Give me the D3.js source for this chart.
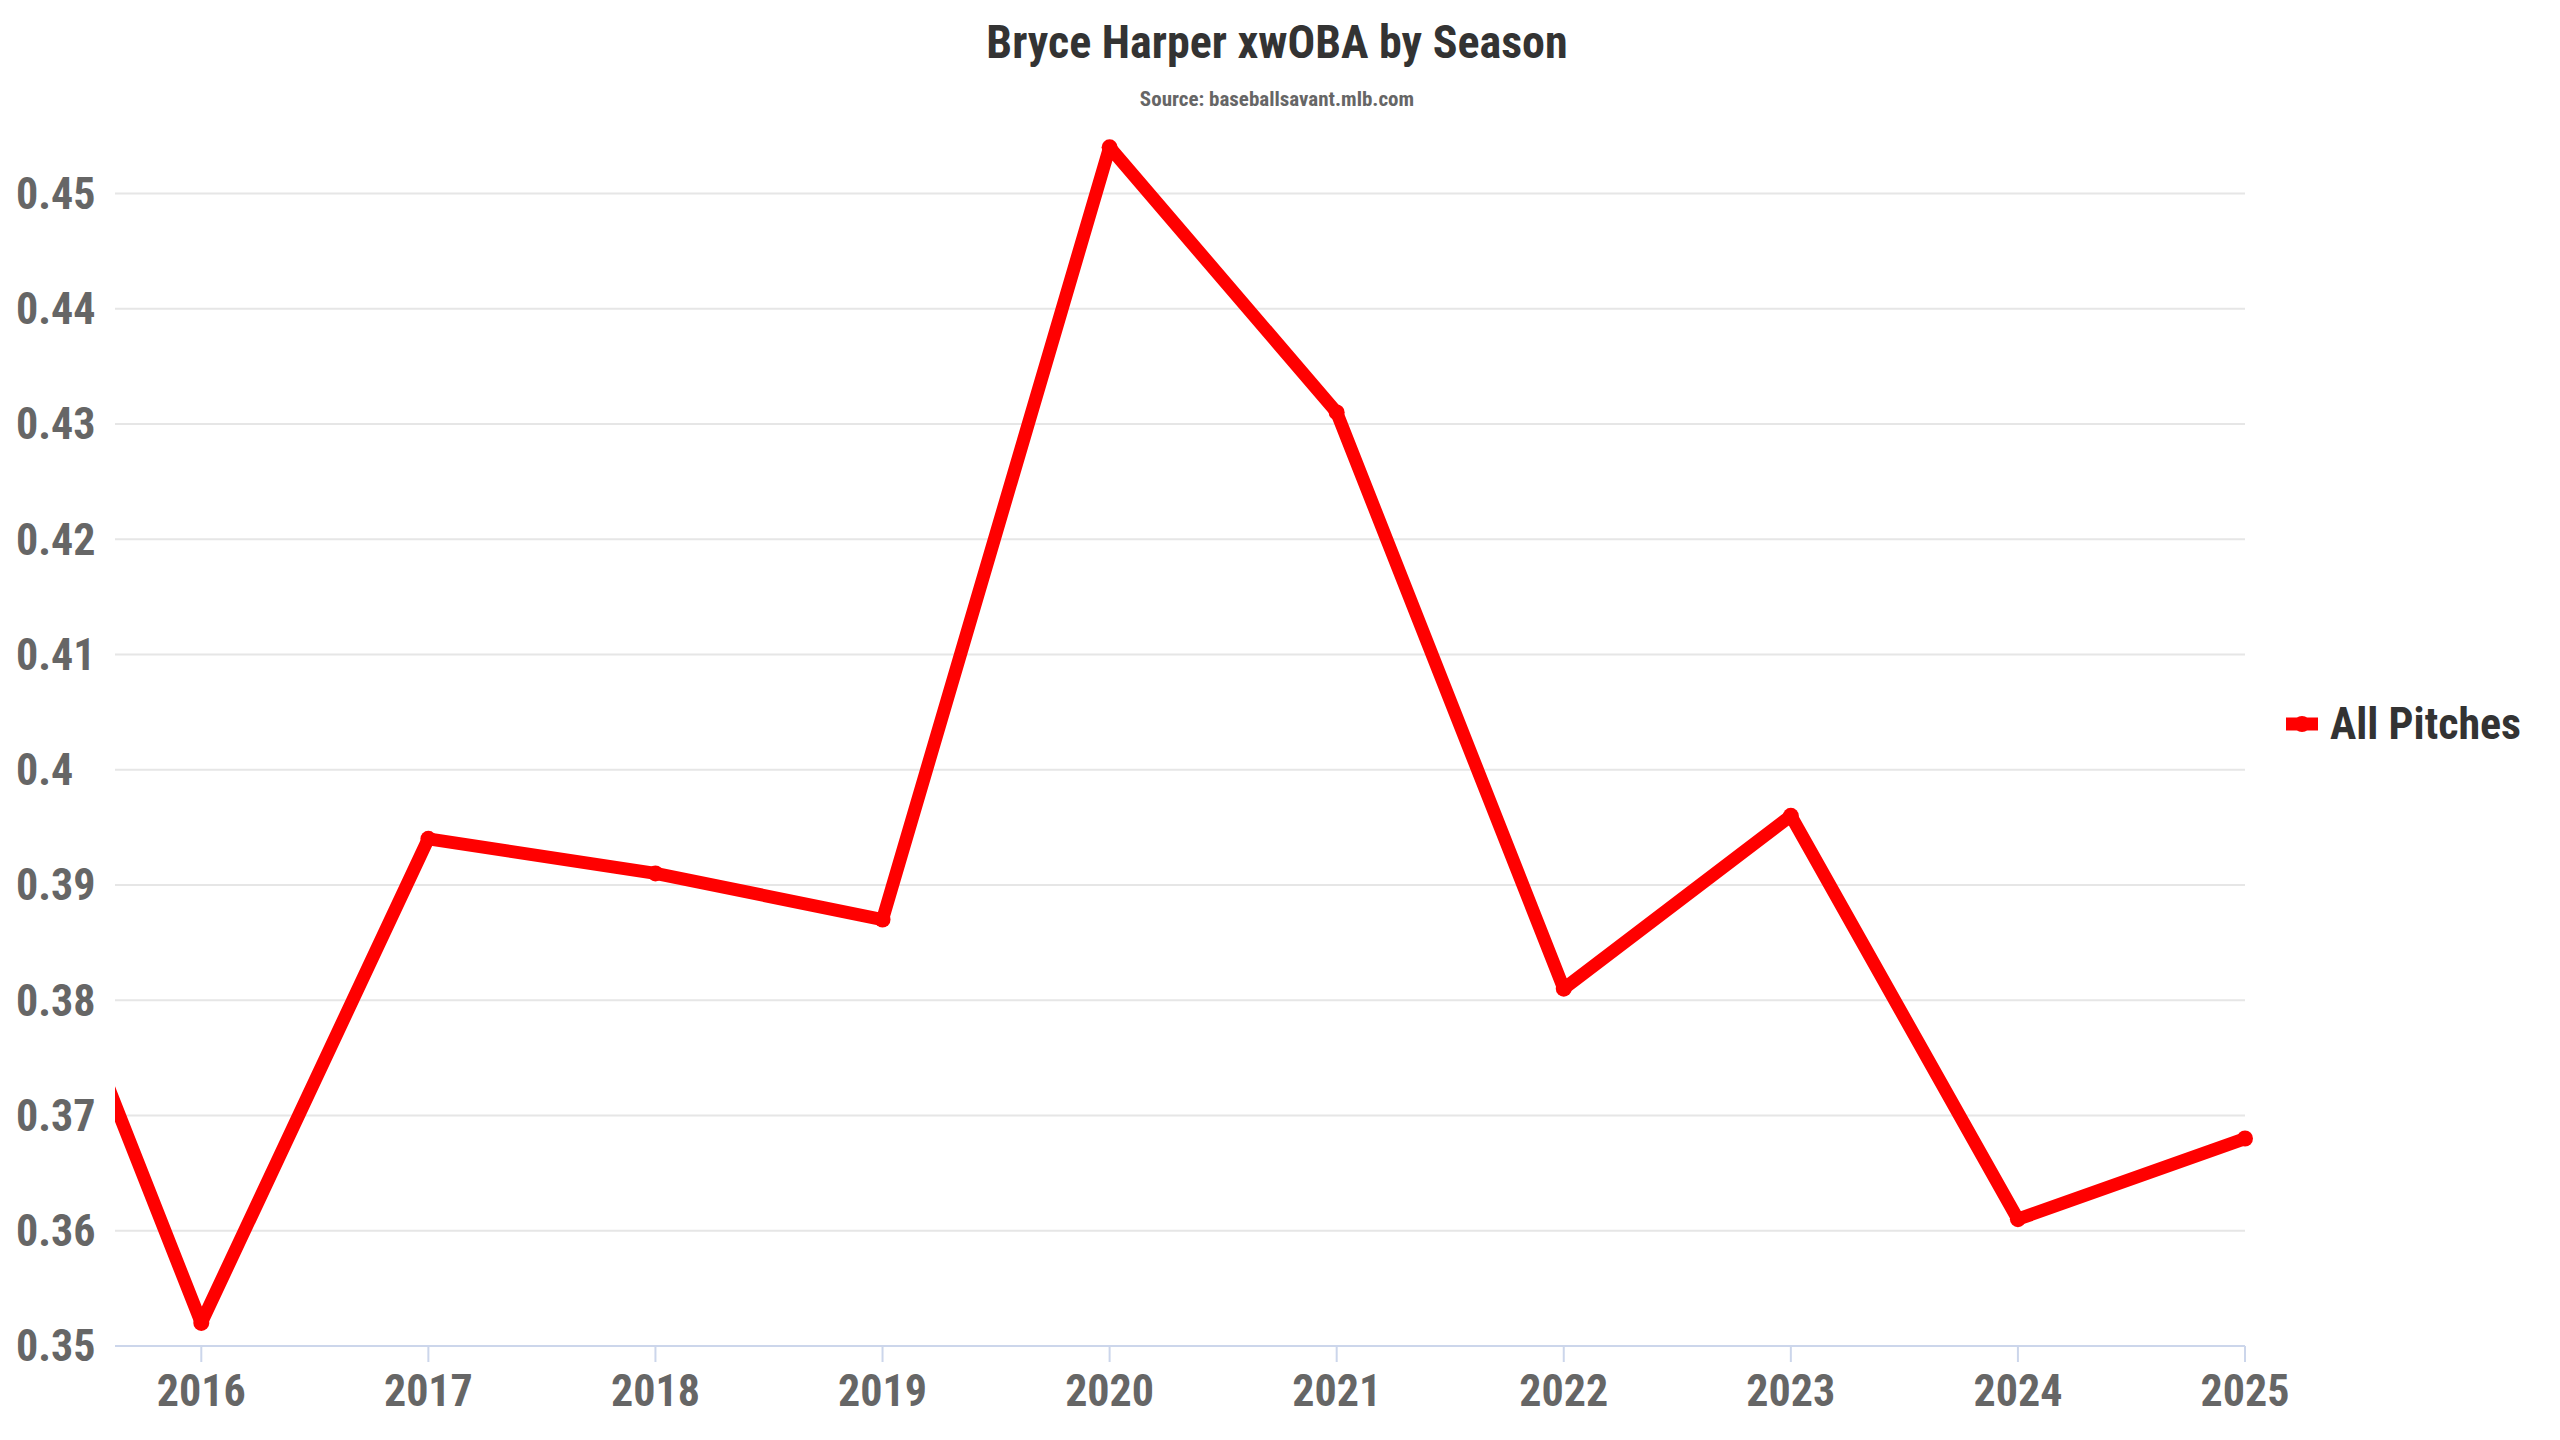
<!DOCTYPE html>
<html><head><meta charset="utf-8">
<script src="https://cdn.jsdelivr.net/npm/d3@7"></script>
<style>body{margin:0;background:#fff}svg{display:block}</style>
</head><body><svg id="c"></svg>
<script>
const seasons = [2015, 2016, 2017, 2018, 2019, 2020, 2021, 2022, 2023, 2024, 2025];
const xwoba = [0.402, 0.352, 0.394, 0.391, 0.387, 0.454, 0.431, 0.381, 0.396, 0.361, 0.368];
const yTicks = [0.35, 0.36, 0.37, 0.38, 0.39, 0.4, 0.41, 0.42, 0.43, 0.44, 0.45];
const xTicks = [2016, 2017, 2018, 2019, 2020, 2021, 2022, 2023, 2024, 2025];

const W = 2560, H = 1440;
const font = "'Liberation Sans Narrow','Roboto Condensed',Roboto,sans-serif";
const m = {left: 115, right: 2245, top: 130, bottom: 1346};

const svg = d3.select("#c").attr("width", W).attr("height", H).style("font-family", font);

const x = d3.scaleLinear().domain([2015.62, 2025]).range([m.left, m.right]);
const y = d3.scaleLinear().domain([0.35, 0.4555]).range([m.bottom, m.top]);

// grid
svg.append("g").selectAll("line").data(yTicks.slice(1)).join("line")
  .attr("x1", m.left).attr("x2", m.right)
  .attr("y1", d => y(d)).attr("y2", d => y(d))
  .attr("stroke", "#e6e6e6").attr("stroke-width", 2);

// y labels
svg.append("g").selectAll("text").data(yTicks).join("text")
  .attr("x", 16).attr("y", d => y(d)).attr("dy", "0.35em")
  .attr("fill", "#666").attr("font-weight", "bold").attr("font-size", 44)
  .text(d => d3.format("")(+d.toFixed(2)));

// x axis
svg.append("line").attr("x1", m.left).attr("x2", m.right)
  .attr("y1", m.bottom).attr("y2", m.bottom).attr("stroke", "#ccd6eb").attr("stroke-width", 2);
const xg = svg.append("g").selectAll("g").data(xTicks).join("g")
  .attr("transform", d => `translate(${x(d)},${m.bottom})`);
xg.append("line").attr("y2", 16).attr("stroke", "#ccd6eb").attr("stroke-width", 2);
xg.append("text").attr("y", 60).attr("text-anchor", "middle")
  .attr("fill", "#666").attr("font-weight", "bold").attr("font-size", 44).text(d => d);

// line
svg.append("clipPath").attr("id", "clip").append("rect")
  .attr("x", m.left).attr("y", 0).attr("width", m.right - m.left + 20).attr("height", H);
const pts = seasons.map((s, i) => [s, xwoba[i]]);
const g = svg.append("g").attr("clip-path", "url(#clip)");
g.append("path").datum(pts)
  .attr("d", d3.line().x(d => x(d[0])).y(d => y(d[1])))
  .attr("fill", "none").attr("stroke", "#ff0000").attr("stroke-width", 13)
  .attr("stroke-linejoin", "round");
g.selectAll("circle").data(pts).join("circle")
  .attr("cx", d => x(d[0])).attr("cy", d => y(d[1])).attr("r", 8).attr("fill", "#ff0000");

// title
svg.append("text").attr("x", W / 2 - 3).attr("y", 58).attr("text-anchor", "middle")
  .attr("fill", "#333").attr("font-weight", "bold").attr("font-size", 46)
  .text("Bryce Harper xwOBA by Season");
svg.append("text").attr("x", W / 2 - 3).attr("y", 106).attr("text-anchor", "middle")
  .attr("fill", "#666").attr("font-weight", "bold").attr("font-size", 21)
  .text("Source: baseballsavant.mlb.com");

// legend
const lg = svg.append("g").attr("transform", "translate(2286,724)");
lg.append("line").attr("x1", 0).attr("x2", 32).attr("stroke", "#ff0000").attr("stroke-width", 13);
lg.append("circle").attr("cx", 16).attr("r", 8).attr("fill", "#ff0000");
lg.append("text").attr("x", 44).attr("dy", "0.35em").attr("fill", "#333")
  .attr("font-weight", "bold").attr("font-size", 44).text("All Pitches");
</script></body></html>
